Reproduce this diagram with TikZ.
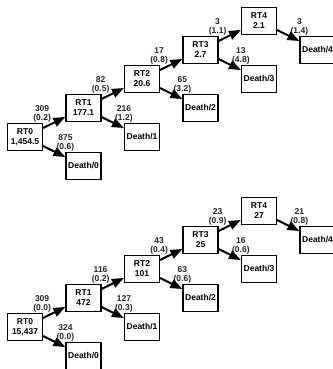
\documentclass[tikz,border=0pt]{standalone}
\usepackage{fontspec}
\setmainfont{Liberation Sans}
\usetikzlibrary{arrows.meta}

\tikzset{
  box/.style={draw,line width=1.2pt,minimum width=35pt,minimum height=27pt,inner sep=1pt,
    align=center,font=\fontsize{8.5}{10}\selectfont\bfseries},
  flow/.style={line width=2pt,-{Triangle[length=12pt,width=9pt]}},
  lbl/.style={anchor=south,inner sep=0pt,align=center,text=black!85,
    font=\fontsize{8.5}{9.5}\selectfont\bfseries},
}

\begin{document}
\begin{tikzpicture}[x=1pt,y=-1pt]
\useasboundingbox (0,0) rectangle (332,369);
% upper tree
\node[box] (rt0) at (25,137) {RT0\\1,454.5};
\node[box] (rt1) at (83.5,108) {RT1\\177.1};
\node[box] (rt2) at (142,79) {RT2\\20.6};
\node[box] (rt3) at (200.5,50) {RT3\\2.7};
\node[box] (rt4) at (259,21) {RT4\\2.1};
\node[box] (dt0) at (83.5,166) {Death/0};
\node[box] (dt1) at (142,137) {Death/1};
\node[box] (dt2) at (200.5,108) {Death/2};
\node[box] (dt3) at (259,79) {Death/3};
\node[box] (dt4) at (317.5,50) {Death/4};
\draw[flow] (rt0) -- (rt1);
\draw[flow] (rt1) -- (rt2);
\draw[flow] (rt2) -- (rt3);
\draw[flow] (rt3) -- (rt4);
\draw[flow] (rt0) -- (dt0);
\draw[flow] (rt1) -- (dt1);
\draw[flow] (rt2) -- (dt2);
\draw[flow] (rt3) -- (dt3);
\draw[flow] (rt4) -- (dt4);
\node[lbl] (ut0) at ([xshift=-1pt]rt0.north east) {309\\(0.2)};
\node[lbl] (ut1) at ([xshift=-1pt]rt1.north east) {82\\(0.5)};
\node[lbl] (ut2) at ([xshift=-1pt]rt2.north east) {17\\(0.8)};
\node[lbl] (ut3) at ([xshift=-1pt]rt3.north east) {3\\(1.1)};
\node[lbl] (lt0) at (dt0.north west) {875\\(0.6)};
\node[lbl] (lt1) at (dt1.north west) {216\\(1.2)};
\node[lbl] (lt2) at (dt2.north west) {65\\(3.2)};
\node[lbl] (lt3) at (dt3.north west) {13\\(4.8)};
\node[lbl] (lt4) at (dt4.north west) {3\\(1.4)};
% lower tree
\node[box] (rb0) at (25,327) {RT0\\15,437};
\node[box] (rb1) at (83.5,298) {RT1\\472};
\node[box] (rb2) at (142,269) {RT2\\101};
\node[box] (rb3) at (200.5,240) {RT3\\25};
\node[box] (rb4) at (259,211) {RT4\\27};
\node[box] (db0) at (83.5,356) {Death/0};
\node[box] (db1) at (142,327) {Death/1};
\node[box] (db2) at (200.5,298) {Death/2};
\node[box] (db3) at (259,269) {Death/3};
\node[box] (db4) at (317.5,240) {Death/4};
\draw[flow] (rb0) -- (rb1);
\draw[flow] (rb1) -- (rb2);
\draw[flow] (rb2) -- (rb3);
\draw[flow] (rb3) -- (rb4);
\draw[flow] (rb0) -- (db0);
\draw[flow] (rb1) -- (db1);
\draw[flow] (rb2) -- (db2);
\draw[flow] (rb3) -- (db3);
\draw[flow] (rb4) -- (db4);
\node[lbl] (ub0) at ([xshift=-1pt]rb0.north east) {309\\(0.0)};
\node[lbl] (ub1) at ([xshift=-1pt]rb1.north east) {116\\(0.2)};
\node[lbl] (ub2) at ([xshift=-1pt]rb2.north east) {43\\(0.4)};
\node[lbl] (ub3) at ([xshift=-1pt]rb3.north east) {23\\(0.9)};
\node[lbl] (lb0) at (db0.north west) {324\\(0.0)};
\node[lbl] (lb1) at (db1.north west) {127\\(0.3)};
\node[lbl] (lb2) at (db2.north west) {63\\(0.6)};
\node[lbl] (lb3) at (db3.north west) {16\\(0.6)};
\node[lbl] (lb4) at (db4.north west) {21\\(0.8)};
\end{tikzpicture}
\end{document}
